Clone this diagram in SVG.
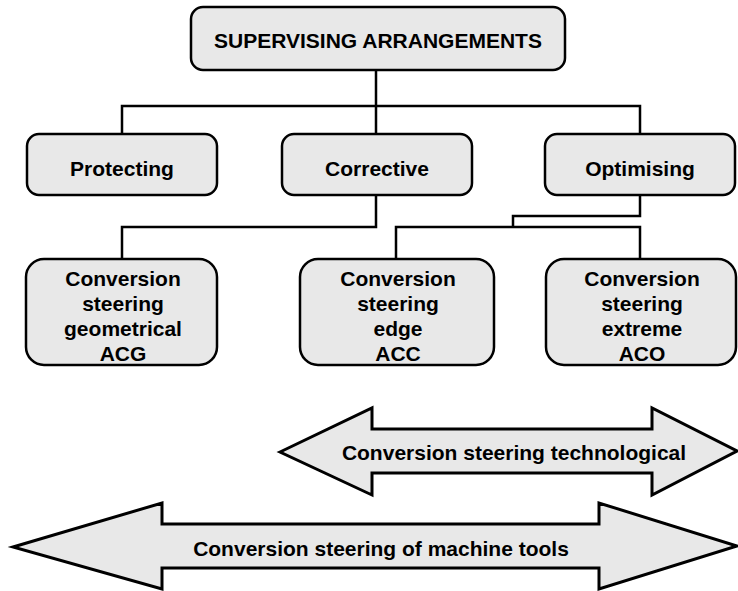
<svg xmlns="http://www.w3.org/2000/svg" width="738" height="591" viewBox="0 0 738 591">
<style>
.box{fill:#e8e8e8;stroke:#000;stroke-width:2.5}
.arr{fill:#e8e8e8;stroke:#000;stroke-width:3;stroke-linejoin:miter}
.t{font-family:"Liberation Sans",Arial,sans-serif;font-weight:bold;font-size:21px;fill:#000;text-anchor:middle}
.c{fill:none;stroke:#000;stroke-width:2.5}
</style>
<rect x="0" y="0" width="738" height="591" fill="#fff"/>
<g id="connectors">
<path class="c" d="M376,70V106M122,134V106H640V134M376,106V134"/>
<path class="c" d="M376,195V227H122V259"/>
<path class="c" d="M640,195V216H513V227M396,259V227H640V259"/>
</g>
<g id="supervising">
<rect class="box" x="191" y="7" width="374" height="63" rx="12"/>
<text class="t" x="378" y="48">SUPERVISING ARRANGEMENTS</text>
</g>
<g id="protecting">
<rect class="box" x="27" y="134" width="190" height="61" rx="12"/>
<text class="t" x="122" y="176">Protecting</text>
</g>
<g id="corrective">
<rect class="box" x="282" y="134" width="190" height="61" rx="12"/>
<text class="t" x="377" y="176">Corrective</text>
</g>
<g id="optimising">
<rect class="box" x="545" y="134" width="190" height="61" rx="12"/>
<text class="t" x="640" y="176">Optimising</text>
</g>
<g id="acg">
<rect class="box" x="26" y="259" width="191" height="106" rx="18"/>
<text class="t" x="123" y="286">Conversion</text>
<text class="t" x="123" y="311">steering</text>
<text class="t" x="123" y="336">geometrical</text>
<text class="t" x="123" y="361">ACG</text>
</g>
<g id="acc">
<rect class="box" x="300" y="259" width="194" height="106" rx="18"/>
<text class="t" x="398" y="286">Conversion</text>
<text class="t" x="398" y="311">steering</text>
<text class="t" x="398" y="336">edge</text>
<text class="t" x="398" y="361">ACC</text>
</g>
<g id="aco">
<rect class="box" x="546" y="259" width="190" height="106" rx="18"/>
<text class="t" x="642" y="286">Conversion</text>
<text class="t" x="642" y="311">steering</text>
<text class="t" x="642" y="336">extreme</text>
<text class="t" x="642" y="361">ACO</text>
</g>
<g id="technological">
<polygon class="arr" points="280,452 372,408 372,429 652,429 652,408 737,451 652,495 652,473 372,473 372,495"/>
<text class="t" x="514" y="460">Conversion steering technological</text>
</g>
<g id="machine-tools">
<polygon class="arr" points="13,547 162,503 162,524 599,524 599,503 737,546 599,589 599,568 162,568 162,589"/>
<text class="t" x="381" y="556">Conversion steering of machine tools</text>
</g>
</svg>
